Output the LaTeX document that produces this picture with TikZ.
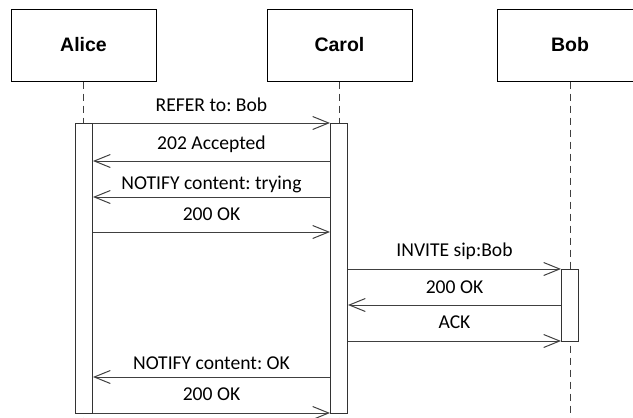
\documentclass[tikz,border=0pt]{standalone}
\usepackage{fontspec}
\setmainfont{Carlito}
\newfontfamily\headfont{Liberation Sans}
\usetikzlibrary{arrows.meta}
\frenchspacing

\begin{document}
\begin{tikzpicture}[x=1pt,y=-1pt,
  actor/.style={draw=black, line width=1pt, minimum width=145pt, minimum height=72pt,
    inner sep=0pt, font=\headfont\bfseries\fontsize{19.5}{22}\selectfont},
  life/.style={draw=black!75, line width=1pt, dash pattern=on 7pt off 5pt},
  bar/.style={draw=black!80, fill=white, line width=1pt, minimum width=17pt, inner sep=0pt},
  msg/.style={draw=black!75, line width=1pt, -{Straight Barb[length=16pt,width=13pt,line width=1pt]}},
  lbl/.style={font=\fontsize{19.6}{22}\selectfont, inner sep=0pt, anchor=base}
]
\useasboundingbox (0,0) rectangle (633,418);
\clip (0,0) rectangle (633,418);

% participants
\node[actor] (alice) at (83.5,45) {Alice};
\node[actor] (carol) at (339.5,45) {Carol};
\node[actor] (bob)   at (570,45)   {Bob};

% lifelines
\coordinate (aEnd) at (83.5,418);
\coordinate (cEnd) at (339.5,418);
\coordinate (bEnd) at (570,418);
\draw[life] (alice.south) -- (aEnd);
\draw[life] (carol.south) -- (cEnd);
\draw[life] (bob.south) -- (bEnd);

% activation bars
\node[bar, minimum height=290pt] (aBar) at (84,268) {};
\node[bar, minimum height=290pt] (cBar) at (339,268) {};
\node[bar, minimum height=72pt]  (bBar) at (570,305) {};

% message end points
\coordinate (m1a) at (aBar.east |- 0,123); \coordinate (m1c) at (cBar.west |- 0,123);
\coordinate (m2a) at (aBar.east |- 0,161); \coordinate (m2c) at (cBar.west |- 0,161);
\coordinate (m3a) at (aBar.east |- 0,197); \coordinate (m3c) at (cBar.west |- 0,197);
\coordinate (m4a) at (aBar.east |- 0,232); \coordinate (m4c) at (cBar.west |- 0,232);
\coordinate (m5c) at (cBar.east |- 0,269); \coordinate (m5b) at (bBar.west |- 0,269);
\coordinate (m6c) at (cBar.east |- 0,305); \coordinate (m6b) at (bBar.west |- 0,305);
\coordinate (m7c) at (cBar.east |- 0,341); \coordinate (m7b) at (bBar.west |- 0,341);
\coordinate (m8a) at (aBar.east |- 0,377); \coordinate (m8c) at (cBar.west |- 0,377);
\coordinate (m9a) at (aBar.east |- 0,413); \coordinate (m9c) at (cBar.west |- 0,413);

% messages
\draw[msg] (m1a) -- node[lbl, yshift=12pt] {REFER to: Bob} (m1c);
\draw[msg] (m2c) -- node[lbl, yshift=11.5pt] {202 Accepted} (m2a);
\draw[msg] (m3c) -- node[lbl, yshift=7.7pt] {NOTIFY content: trying} (m3a);
\draw[msg] (m4a) -- node[lbl, yshift=12pt] {200 OK} (m4c);
\draw[msg] (m5c) -- node[lbl, yshift=12.5pt] {INVITE sip:Bob} (m5b);
\draw[msg] (m6b) -- node[lbl, yshift=12pt] {200 OK} (m6c);
\draw[msg] (m7c) -- node[lbl, yshift=12.3pt] {ACK} (m7b);
\draw[msg] (m8c) -- node[lbl, yshift=7.7pt] {NOTIFY content: OK} (m8a);
\draw[msg] (m9a) -- node[lbl, yshift=12.3pt] {200 OK} (m9c);
\end{tikzpicture}
\end{document}
